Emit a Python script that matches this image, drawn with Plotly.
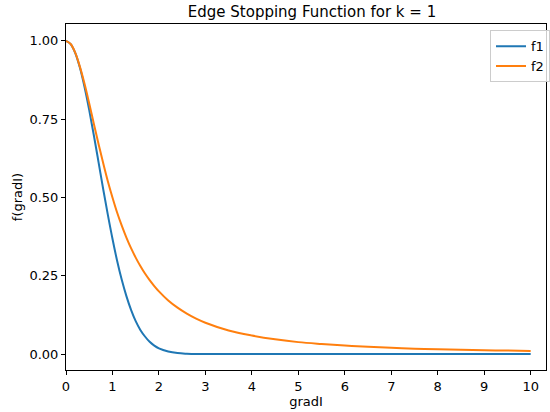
import plotly.graph_objects as go

# Sampled gradient magnitudes and the two edge-stopping responses (k = 1)
grad_i = [0.0, 0.1, 0.2, 0.3, 0.4, 0.5, 0.6, 0.7, 0.8, 0.9,
          1.0, 1.1, 1.2, 1.3, 1.4, 1.5, 1.6, 1.7, 1.8, 1.9,
          2.0, 2.2, 2.4, 2.6, 2.8, 3.0, 3.5, 4.0, 4.5, 5.0,
          5.5, 6.0, 6.5, 7.0, 7.5, 8.0, 8.5, 9.0, 9.5, 10.0]

f1 = [1.000, 0.990, 0.961, 0.914, 0.852, 0.779, 0.698, 0.613, 0.527, 0.445,
      0.368, 0.298, 0.237, 0.185, 0.141, 0.105, 0.077, 0.056, 0.039, 0.027,
      0.018, 0.008, 0.003, 0.001, 0.000, 0.000, 0.000, 0.000, 0.000, 0.000,
      0.000, 0.000, 0.000, 0.000, 0.000, 0.000, 0.000, 0.000, 0.000, 0.000]

f2 = [1.000, 0.990, 0.962, 0.917, 0.862, 0.800, 0.735, 0.671, 0.610, 0.552,
      0.500, 0.452, 0.410, 0.372, 0.338, 0.308, 0.281, 0.257, 0.236, 0.217,
      0.200, 0.171, 0.148, 0.129, 0.113, 0.100, 0.075, 0.059, 0.047, 0.038,
      0.032, 0.027, 0.023, 0.020, 0.017, 0.015, 0.014, 0.012, 0.011, 0.010]

x_ticks = [0, 1, 2, 3, 4, 5, 6, 7, 8, 9, 10]
y_ticks = [0.0, 0.25, 0.5, 0.75, 1.0]

FONT = "DejaVu Sans"

fig = go.Figure()
fig.add_trace(go.Scatter(x=grad_i, y=f1, name="f1", mode="lines",
                         line=dict(color="#1f77b4", width=2, shape="spline")))
fig.add_trace(go.Scatter(x=grad_i, y=f2, name="f2", mode="lines",
                         line=dict(color="#ff7f0e", width=2, shape="spline")))

axis_common = dict(
    showline=True, linecolor="black", linewidth=1, mirror=True,
    showgrid=False, zeroline=False,
    ticks="outside", ticklen=4, tickwidth=1, tickcolor="black",
    tickfont=dict(family=FONT, size=13, color="black"),
)

fig.update_xaxes(range=[0, 10.33], tickvals=x_ticks,
                 title=dict(text="gradI", font=dict(family=FONT, size=13, color="black"),
                            standoff=3),
                 **axis_common)
fig.update_yaxes(range=[-0.051, 1.054], tickvals=y_ticks, tickformat=".2f",
                 title=dict(text="f(gradI)", font=dict(family=FONT, size=13, color="black"),
                            standoff=3),
                 **axis_common)

fig.update_layout(
    width=550, height=412,
    margin=dict(l=66, r=0, t=24, b=42),
    paper_bgcolor="white", plot_bgcolor="white",
    font=dict(family=FONT, size=13, color="black"),
    title=dict(text="Edge Stopping Function for k = 1", x=312 / 550, xanchor="center",
               y=1 - 12 / 412, yanchor="middle",
               font=dict(family=FONT, size=15, color="black")),
    legend=dict(x=0.884, y=0.982, xanchor="left", yanchor="top",
                bgcolor="rgba(255,255,255,0.8)", bordercolor="#cccccc", borderwidth=1,
                font=dict(family=FONT, size=13, color="black"),
                itemwidth=30, tracegroupgap=0),
    showlegend=True,
)

fig.write_html("out.html")
